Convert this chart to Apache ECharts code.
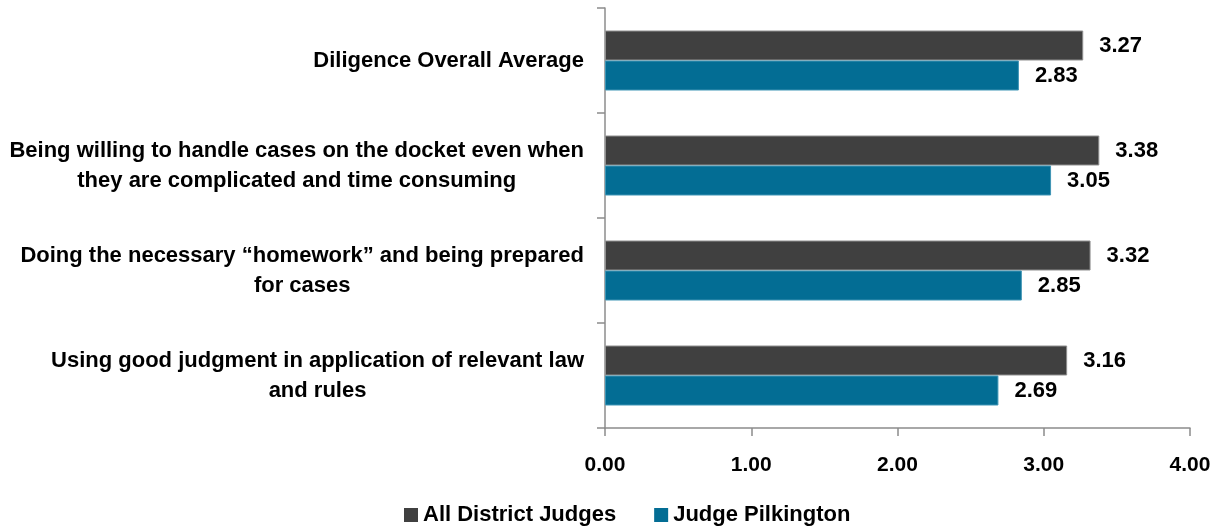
<!DOCTYPE html>
<html>
<head>
<meta charset="utf-8">
<script src="https://cdn.jsdelivr.net/npm/echarts@6/dist/echarts.min.js"></script>
<style>html,body{margin:0;padding:0;background:#fff}#c{width:1220px;height:531px}</style>
</head>
<body>
<div id="c"></div>
<script>
const categories = [
  "Diligence Overall Average",
  "Being willing to handle cases on the docket even when\nthey are complicated and time consuming",
  "Doing the necessary \u201chomework\u201d and being prepared\nfor cases",
  "Using good judgment in application of relevant law\nand rules"
];
const seriesNames = ["All District Judges", "Judge Pilkington"];
const allDistrictJudges = [3.27, 3.38, 3.32, 3.16];
const judgePilkington = [2.83, 3.05, 2.85, 2.69];
const xTicks = [0, 1, 2, 3, 4];

const FONT = '"Liberation Sans Narrow", "Arial Narrow", "Liberation Sans", Arial, sans-serif';
const chart = echarts.init(document.getElementById('c'));
const labelStyle = {
  show: true, position: 'right', distance: 16,
  formatter: p => p.value.toFixed(2),
  fontFamily: FONT, fontWeight: 'bold', fontSize: 22, color: '#000'
};
chart.setOption({
  animation: false,
  textStyle: { fontFamily: FONT },
  grid: { left: 605, right: 30, top: 8, height: 420, containLabel: false },
  legend: {
    bottom: 0, left: 399, itemWidth: 14, itemHeight: 14, itemGap: 38,
    icon: 'rect',
    itemStyle: { borderWidth: 0 },
    textStyle: { fontFamily: FONT, fontWeight: 'bold', fontSize: 22, color: '#000' },
    data: seriesNames
  },
  xAxis: {
    type: 'value', min: xTicks[0], max: xTicks[xTicks.length - 1], interval: 1,
    splitLine: { show: false },
    axisLine: { show: true, lineStyle: { color: '#8c8c8c', width: 1.5 } },
    axisTick: { show: true, length: 8, lineStyle: { color: '#8c8c8c', width: 1.5 } },
    axisLabel: { margin: 27, formatter: v => v.toFixed(2), fontFamily: FONT, fontWeight: 'bold', fontSize: 21, color: '#000' }
  },
  yAxis: {
    type: 'category', data: categories, inverse: true,
    axisLine: { show: true, lineStyle: { color: '#8c8c8c', width: 1.5 } },
    axisTick: { show: true, length: 8, lineStyle: { color: '#8c8c8c', width: 1.5 } },
    axisLabel: {
      margin: 21,
      formatter: v => v.split('\n').map(l => '{c|' + l + '}').join('\n'),
      rich: { c: { align: 'center', fontFamily: FONT, fontWeight: 'bold', fontSize: 22, color: '#000', lineHeight: 30 } }
    }
  },
  series: [
    {
      name: seriesNames[0], type: 'bar', data: allDistrictJudges, barWidth: 30, barGap: '0%',
      itemStyle: { color: '#404040', borderColor: '#8f8f8f', borderWidth: 1 },
      label: labelStyle
    },
    {
      name: seriesNames[1], type: 'bar', data: judgePilkington, barWidth: 30, barGap: '0%',
      itemStyle: { color: '#036d94', borderColor: '#3f95b5', borderWidth: 1 },
      label: labelStyle
    }
  ]
});
</script>
</body>
</html>
